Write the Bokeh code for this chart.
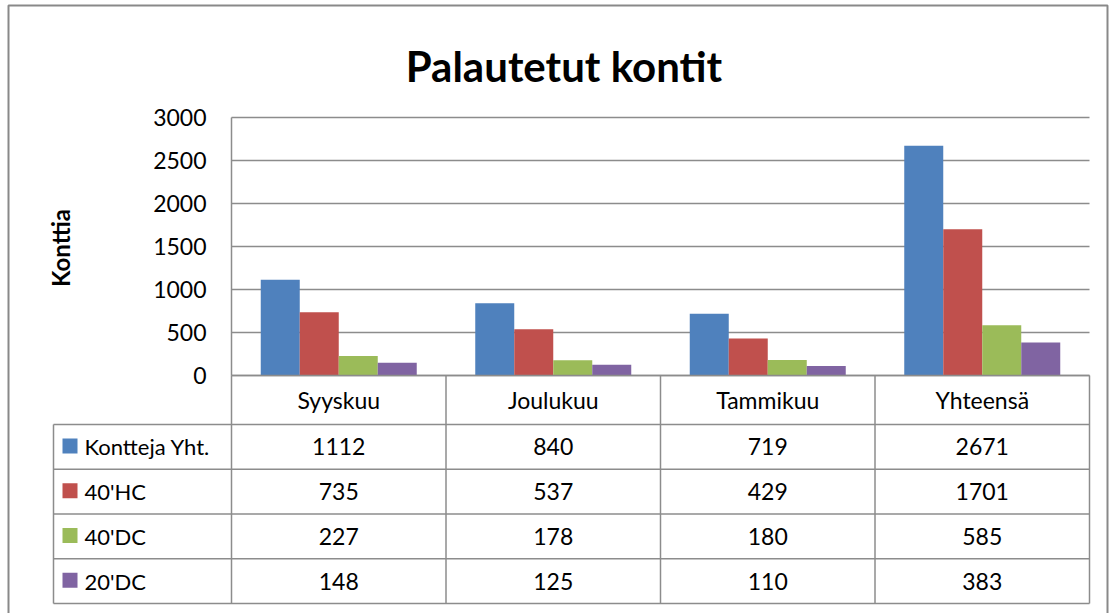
import numpy as np
from bokeh.plotting import figure
from bokeh.models import Range1d
from bokeh.core.properties import value
from bokeh.embed import file_html
from bokeh.resources import INLINE

# ---------------- data ----------------
title_text = "Palautetut kontit"
y_label = "Konttia"
categories = ["Syyskuu", "Joulukuu", "Tammikuu", "Yhteensä"]
series_names = ["Kontteja Yht.", "40'HC", "40'DC", "20'DC"]
kontteja_yht = [1112, 840, 719, 2671]
hc40 = [735, 537, 429, 1701]
dc40 = [227, 178, 180, 585]
dc20 = [148, 125, 110, 383]
y_ticks = [0, 500, 1000, 1500, 2000, 2500, 3000]
colors = ["#4F81BD", "#C0504D", "#9BBB59", "#8064A2"]

series = [kontteja_yht, hc40, dc40, dc20]

# ---------------- layout constants ----------------
W, H = 1118, 613
PLOT_LEFT = 231          # px of category axis start
CAT_PX = 214.5           # px per category
BASE_Y = 375             # px of value 0
VAL_PX = 43 / 500        # px per value unit
HEADER_H = 49
ROW_H = 44.75
LEG_LEFT = -178 / CAT_PX  # table legend column left edge (category units)
FONT = value("Lato")
GRID = "#8c8c8c"

n = len(categories)
ymax = y_ticks[-1]

p = figure(width=W, height=H,
           x_range=Range1d(-PLOT_LEFT / CAT_PX, (W - PLOT_LEFT) / CAT_PX),
           y_range=Range1d(-(H - BASE_Y) / VAL_PX, BASE_Y / VAL_PX),
           x_axis_type=None, y_axis_type=None,
           output_backend="svg", toolbar_location=None,
           min_border=0, outline_line_color=None,
           background_fill_color="white", border_fill_color="white")
p.extra_x_ranges = {"px": Range1d(0, W)}
p.extra_y_ranges = {"px": Range1d(H, 0), "tbl": Range1d(H - BASE_Y, -BASE_Y)}

# outer chart border (left, top, right)
p.multi_line(xs=[[8, 8, 1107, 1107]], ys=[[H, 5, 5, H]],
             x_range_name="px", y_range_name="px",
             line_color="#898989", line_width=2)

# gridlines
p.segment(x0=[0] * len(y_ticks), x1=[n] * len(y_ticks), y0=y_ticks, y1=y_ticks,
          line_color=GRID, line_width=1.5)
# value axis line
p.segment(x0=[0], x1=[0], y0=[0], y1=[ymax], line_color=GRID, line_width=1.5)

# bars
gap_ratio = 1.5
bw = 1 / (len(series) + gap_ratio)
cx = np.arange(n) + 0.5
for k, (vals, col) in enumerate(zip(series, colors)):
    p.vbar(x=cx + (k - (len(series) - 1) / 2) * bw, top=vals, bottom=0,
           width=bw, fill_color=col, line_color=None)

# value tick labels
p.text(x=[PLOT_LEFT - 25] * len(y_ticks), y=y_ticks, text=[str(t) for t in y_ticks],
       x_range_name="px", text_align="right", text_baseline="middle",
       text_font=FONT, text_font_size=value("23px"), text_color="black")

# ---------------- data table ----------------
row_edges = [HEADER_H + ROW_H * i for i in range(len(series) + 1)]
# horizontal lines
p.segment(x0=[0], x1=[n], y0=[0], y1=[0], y_range_name="tbl",
          line_color=GRID, line_width=1.5)
p.segment(x0=[LEG_LEFT] * len(row_edges), x1=[n] * len(row_edges),
          y0=row_edges, y1=row_edges, y_range_name="tbl",
          line_color=GRID, line_width=1.5)
# vertical lines
p.segment(x0=list(range(n + 1)), x1=list(range(n + 1)),
          y0=[0] * (n + 1), y1=[row_edges[-1]] * (n + 1), y_range_name="tbl",
          line_color=GRID, line_width=1.5)
p.segment(x0=[LEG_LEFT], x1=[LEG_LEFT], y0=[HEADER_H], y1=[row_edges[-1]],
          y_range_name="tbl", line_color=GRID, line_width=1.5)

# category header
p.text(x=cx, y=[HEADER_H / 2] * n, text=categories, y_range_name="tbl",
       text_align="center", text_baseline="middle",
       text_font=FONT, text_font_size=value("23px"), text_color="black")

# rows
for k, (name, vals, col) in enumerate(zip(series_names, series, colors)):
    yc = HEADER_H + ROW_H * (k + 0.5)
    p.rect(x=[PLOT_LEFT - 161.5], y=[yc - 1], width=15, height=15,
           x_range_name="px", y_range_name="tbl", fill_color=col, line_color=None)
    p.text(x=[PLOT_LEFT - 147], y=[yc], text=[name], x_range_name="px", y_range_name="tbl",
           text_align="left", text_baseline="middle",
           text_font=FONT, text_font_size=value("22px"), text_color="black")
    p.text(x=cx, y=[yc] * n, text=[str(v) for v in vals], y_range_name="tbl",
           text_align="center", text_baseline="middle",
           text_font=FONT, text_font_size=value("23px"), text_color="black")

# title and axis label
p.text(x=[563.5], y=[65], text=[title_text], x_range_name="px", y_range_name="px",
       text_align="center", text_baseline="alphabetic",
       text_font=FONT, text_font_size=value("42px"), text_font_style="bold",
       text_color="black")
p.text(x=[60], y=[247.5], text=[y_label], x_range_name="px", y_range_name="px",
       angle=np.pi / 2, text_align="center", text_baseline="middle",
       text_font=FONT, text_font_size=value("24px"), text_font_style="bold",
       text_color="black")

open("out.html", "w").write(file_html(p, INLINE))
